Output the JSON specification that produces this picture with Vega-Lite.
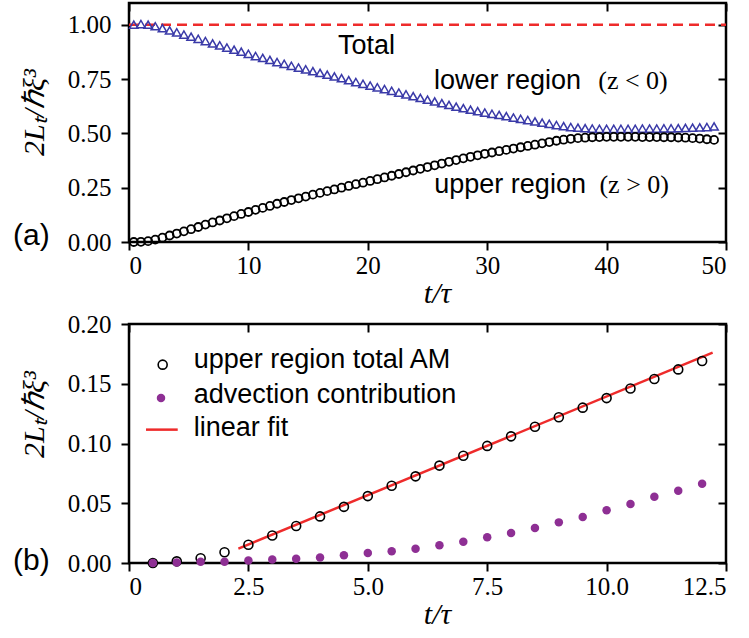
{
  "$schema": "https://vega.github.io/schema/vega-lite/v6.json",
  "padding": {"left": 11, "top": 0, "right": 2, "bottom": 2},
  "spacing": 82,
  "bounds": "flush",
  "background": "white",
  "config": {
    "font": "Liberation Serif",
    "view": {"stroke": "black", "strokeWidth": 2.5},
    "style": {"guide-label": {"font": "Liberation Serif", "fontSize": 25, "fill": "black"}},
    "axis": {
      "domain": false, "grid": false,
      "labelFont": "Liberation Serif", "labelFontSize": 25, "labelColor": "black",
      "tickColor": "black", "tickWidth": 2, "tickSize": 8,
      "titleFont": "Liberation Serif", "titleFontStyle": "italic", "titleFontWeight": "normal",
      "titleFontSize": 30, "titleColor": "black"
    }
  },
  "datasets": {
    "total": [{"t": 0, "v": 1.0}, {"t": 50, "v": 1.0}],
    "lower": [
      {"t":0.4,"v":1.000},{"t":1.0,"v":1.003},{"t":1.6,"v":1.000},{"t":2.2,"v":0.993},{"t":2.8,"v":0.984},{"t":3.4,"v":0.974},{"t":4.0,"v":0.965},{"t":4.6,"v":0.955},{"t":5.2,"v":0.945},{"t":5.8,"v":0.935},
      {"t":6.4,"v":0.925},{"t":7.0,"v":0.914},{"t":7.6,"v":0.905},{"t":8.2,"v":0.895},{"t":8.8,"v":0.885},{"t":9.4,"v":0.876},{"t":10.0,"v":0.866},{"t":10.6,"v":0.856},{"t":11.2,"v":0.847},{"t":11.8,"v":0.838},
      {"t":12.4,"v":0.828},{"t":13.0,"v":0.820},{"t":13.6,"v":0.811},{"t":14.2,"v":0.803},{"t":14.8,"v":0.795},{"t":15.4,"v":0.786},{"t":16.0,"v":0.778},{"t":16.6,"v":0.770},{"t":17.2,"v":0.762},{"t":17.8,"v":0.754},
      {"t":18.4,"v":0.745},{"t":19.0,"v":0.736},{"t":19.6,"v":0.728},{"t":20.2,"v":0.720},{"t":20.8,"v":0.712},{"t":21.4,"v":0.704},{"t":22.0,"v":0.696},{"t":22.6,"v":0.688},{"t":23.2,"v":0.680},{"t":23.8,"v":0.671},
      {"t":24.4,"v":0.663},{"t":25.0,"v":0.655},{"t":25.6,"v":0.647},{"t":26.2,"v":0.639},{"t":26.8,"v":0.631},{"t":27.4,"v":0.623},{"t":28.0,"v":0.616},{"t":28.6,"v":0.609},{"t":29.2,"v":0.602},{"t":29.8,"v":0.596},
      {"t":30.4,"v":0.590},{"t":31.0,"v":0.585},{"t":31.6,"v":0.579},{"t":32.2,"v":0.573},{"t":32.8,"v":0.567},{"t":33.4,"v":0.561},{"t":34.0,"v":0.555},{"t":34.6,"v":0.549},{"t":35.2,"v":0.544},{"t":35.8,"v":0.538},
      {"t":36.4,"v":0.533},{"t":37.0,"v":0.529},{"t":37.6,"v":0.526},{"t":38.2,"v":0.524},{"t":38.8,"v":0.522},{"t":39.4,"v":0.521},{"t":40.0,"v":0.521},{"t":40.6,"v":0.521},{"t":41.2,"v":0.521},{"t":41.8,"v":0.521},
      {"t":42.4,"v":0.521},{"t":43.0,"v":0.522},{"t":43.6,"v":0.522},{"t":44.2,"v":0.522},{"t":44.8,"v":0.523},{"t":45.4,"v":0.523},{"t":46.0,"v":0.524},{"t":46.6,"v":0.525},{"t":47.2,"v":0.526},{"t":47.8,"v":0.527},
      {"t":48.4,"v":0.529},{"t":49.0,"v":0.532}
    ],
    "upper": [
      {"t":0.4,"v":0.000},{"t":1.0,"v":0.001},{"t":1.6,"v":0.004},{"t":2.2,"v":0.011},{"t":2.8,"v":0.020},{"t":3.4,"v":0.030},{"t":4.0,"v":0.039},{"t":4.6,"v":0.049},{"t":5.2,"v":0.059},{"t":5.8,"v":0.069},
      {"t":6.4,"v":0.080},{"t":7.0,"v":0.090},{"t":7.6,"v":0.099},{"t":8.2,"v":0.109},{"t":8.8,"v":0.119},{"t":9.4,"v":0.129},{"t":10.0,"v":0.138},{"t":10.6,"v":0.148},{"t":11.2,"v":0.157},{"t":11.8,"v":0.166},
      {"t":12.4,"v":0.176},{"t":13.0,"v":0.184},{"t":13.6,"v":0.193},{"t":14.2,"v":0.201},{"t":14.8,"v":0.209},{"t":15.4,"v":0.218},{"t":16.0,"v":0.226},{"t":16.6,"v":0.234},{"t":17.2,"v":0.242},{"t":17.8,"v":0.250},
      {"t":18.4,"v":0.258},{"t":19.0,"v":0.266},{"t":19.6,"v":0.273},{"t":20.2,"v":0.281},{"t":20.8,"v":0.289},{"t":21.4,"v":0.297},{"t":22.0,"v":0.305},{"t":22.6,"v":0.313},{"t":23.2,"v":0.321},{"t":23.8,"v":0.329},
      {"t":24.4,"v":0.337},{"t":25.0,"v":0.345},{"t":25.6,"v":0.353},{"t":26.2,"v":0.361},{"t":26.8,"v":0.369},{"t":27.4,"v":0.377},{"t":28.0,"v":0.385},{"t":28.6,"v":0.392},{"t":29.2,"v":0.399},{"t":29.8,"v":0.406},
      {"t":30.4,"v":0.412},{"t":31.0,"v":0.418},{"t":31.6,"v":0.424},{"t":32.2,"v":0.430},{"t":32.8,"v":0.436},{"t":33.4,"v":0.442},{"t":34.0,"v":0.448},{"t":34.6,"v":0.454},{"t":35.2,"v":0.460},{"t":35.8,"v":0.466},
      {"t":36.4,"v":0.471},{"t":37.0,"v":0.475},{"t":37.6,"v":0.478},{"t":38.2,"v":0.480},{"t":38.8,"v":0.482},{"t":39.4,"v":0.483},{"t":40.0,"v":0.484},{"t":40.6,"v":0.484},{"t":41.2,"v":0.484},{"t":41.8,"v":0.484},
      {"t":42.4,"v":0.484},{"t":43.0,"v":0.483},{"t":43.6,"v":0.483},{"t":44.2,"v":0.483},{"t":44.8,"v":0.482},{"t":45.4,"v":0.482},{"t":46.0,"v":0.481},{"t":46.6,"v":0.480},{"t":47.2,"v":0.478},{"t":47.8,"v":0.476},
      {"t":48.4,"v":0.473},{"t":49.0,"v":0.470}
    ],
    "annSans": [
      {"t": 17.5, "v": 0.867, "label": "Total"},
      {"t": 25.54, "v": 0.706, "label": "lower region"},
      {"t": 25.57, "v": 0.225, "label": "upper region"}
    ],
    "annSerif": [
      {"t": 39.3, "v": 0.706, "label": "(z < 0)"},
      {"t": 39.4, "v": 0.225, "label": "(z > 0)"}
    ],
    "panelA": [{"t": 0, "v": 0, "label": "(a)"}],
    "panelB": [{"t": 0, "v": 0, "label": "(b)"}],
    "upperAM": [
      {"t":0.5,"v":0.000},{"t":1.0,"v":0.0014},{"t":1.5,"v":0.004},{"t":2.0,"v":0.009},{"t":2.5,"v":0.0153},{"t":3.0,"v":0.023},{"t":3.5,"v":0.031},{"t":4.0,"v":0.039},
      {"t":4.5,"v":0.047},{"t":5.0,"v":0.056},{"t":5.5,"v":0.0647},{"t":6.0,"v":0.0725},{"t":6.5,"v":0.0815},{"t":7.0,"v":0.0898},{"t":7.5,"v":0.098},{"t":8.0,"v":0.106},
      {"t":8.5,"v":0.114},{"t":9.0,"v":0.122},{"t":9.5,"v":0.130},{"t":10.0,"v":0.138},{"t":10.5,"v":0.146},{"t":11.0,"v":0.154},{"t":11.5,"v":0.162},{"t":12.0,"v":0.169}
    ],
    "advection": [
      {"t":0.5,"v":0.000},{"t":1.0,"v":0.0005},{"t":1.5,"v":0.001},{"t":2.0,"v":0.001},{"t":2.5,"v":0.002},{"t":3.0,"v":0.003},{"t":3.5,"v":0.0036},{"t":4.0,"v":0.0047},
      {"t":4.5,"v":0.0064},{"t":5.0,"v":0.0084},{"t":5.5,"v":0.0098},{"t":6.0,"v":0.012},{"t":6.5,"v":0.0148},{"t":7.0,"v":0.0178},{"t":7.5,"v":0.0215},{"t":8.0,"v":0.0251},
      {"t":8.5,"v":0.0293},{"t":9.0,"v":0.034},{"t":9.5,"v":0.0385},{"t":10.0,"v":0.0441},{"t":10.5,"v":0.0494},{"t":11.0,"v":0.0555},{"t":11.5,"v":0.0605},{"t":12.0,"v":0.0664}
    ],
    "fit": [{"t": 2.29, "v": 0.012}, {"t": 12.22, "v": 0.176}],
    "legCircle": [{"t": 0.705, "v": 0.166}],
    "legDot": [{"t": 0.67, "v": 0.138}],
    "legLine": [{"t": 0.356, "v": 0.1116}, {"t": 1.02, "v": 0.1116}],
    "legText": [
      {"t": 1.354, "v": 0.1632, "label": "upper region total AM"},
      {"t": 1.354, "v": 0.1339, "label": "advection contribution"},
      {"t": 1.354, "v": 0.106, "label": "linear fit"}
    ]
  },
  "vconcat": [
    {
      "width": 597,
      "height": 239,
      "resolve": {"axis": {"x": "independent", "y": "independent"}},
      "layer": [
        {
          "data": {"name": "total"},
          "mark": {"type": "line", "color": "#ee2b2b", "strokeWidth": 2.5, "strokeDash": [10, 6]},
          "encoding": {
            "x": {"field": "t", "type": "quantitative", "scale": {"domain": [0, 50], "nice": false},
                  "axis": {"orient": "bottom", "values": [0, 10, 20, 30, 40, 50], "format": "d", "labelFont": "Liberation Serif, Times New Roman, serif", "labelFontSize": 25, "labelPadding": 3, "title": "t/τ", "titlePadding": 0, "titleX": 308}},
            "y": {"field": "v", "type": "quantitative", "scale": {"domain": [0, 1.1], "nice": false},
                  "axis": {"orient": "left", "values": [0, 0.25, 0.5, 0.75, 1], "format": ".2f", "labelFont": "Liberation Serif, Times New Roman, serif", "labelFontSize": 25, "labelPadding": 10, "title": "2Lₜ/ℏξ³", "titlePadding": 18, "titleY": 109}}
          }
        },
        {
          "data": {"name": "lower"},
          "mark": {"type": "point", "shape": "triangle-up", "filled": false, "color": "#3a3aa8", "opacity": 1, "size": 70, "strokeWidth": 1.5},
          "encoding": {
            "x": {"field": "t", "type": "quantitative",
                  "axis": {"orient": "top", "values": [0, 10, 20, 30, 40, 50], "labels": false, "tickSize": -8, "title": null}},
            "y": {"field": "v", "type": "quantitative",
                  "axis": {"orient": "right", "values": [0, 0.25, 0.5, 0.75, 1], "labels": false, "tickSize": -8, "title": null}}
          }
        },
        {
          "data": {"name": "upper"},
          "mark": {"type": "point", "shape": "circle", "filled": false, "color": "black", "opacity": 1, "size": 64, "strokeWidth": 1.8},
          "encoding": {
            "x": {"field": "t", "type": "quantitative", "axis": null},
            "y": {"field": "v", "type": "quantitative", "axis": null}
          }
        },
        {
          "data": {"name": "annSans"},
          "mark": {"type": "text", "font": "Liberation Sans", "fontSize": 27, "align": "left", "baseline": "alphabetic", "color": "black"},
          "encoding": {
            "x": {"field": "t", "type": "quantitative", "axis": null},
            "y": {"field": "v", "type": "quantitative", "axis": null},
            "text": {"field": "label"}
          }
        },
        {
          "data": {"name": "annSerif"},
          "mark": {"type": "text", "font": "Liberation Serif", "fontSize": 26, "align": "left", "baseline": "alphabetic", "color": "black"},
          "encoding": {
            "x": {"field": "t", "type": "quantitative", "axis": null},
            "y": {"field": "v", "type": "quantitative", "axis": null},
            "text": {"field": "label"}
          }
        },
        {
          "data": {"name": "panelA"},
          "mark": {"type": "text", "font": "Liberation Sans", "fontSize": 30, "align": "left", "baseline": "middle", "dx": -116, "dy": -6, "color": "black"},
          "encoding": {
            "x": {"field": "t", "type": "quantitative", "axis": null},
            "y": {"field": "v", "type": "quantitative", "axis": null},
            "text": {"field": "label"}
          }
        }
      ]
    },
    {
      "width": 597,
      "height": 239,
      "resolve": {"axis": {"x": "independent", "y": "independent"}},
      "layer": [
        {
          "data": {"name": "fit"},
          "mark": {"type": "line", "color": "#ee2b2b", "strokeWidth": 2.5},
          "encoding": {
            "x": {"field": "t", "type": "quantitative", "scale": {"domain": [0, 12.5], "nice": false},
                  "axis": {"orient": "bottom", "values": [0, 2.5, 5, 7.5, 10, 12.5], "labelExpr": "datum.value == 0 ? '0' : format(datum.value, '.1f')", "labelFont": "Liberation Serif, Times New Roman, serif", "labelFontSize": 25, "labelPadding": 3, "title": "t/τ", "titlePadding": 0, "titleX": 308}},
            "y": {"field": "v", "type": "quantitative", "scale": {"domain": [0, 0.2], "nice": false},
                  "axis": {"orient": "left", "values": [0, 0.05, 0.1, 0.15, 0.2], "format": ".2f", "labelFont": "Liberation Serif, Times New Roman, serif", "labelFontSize": 25, "labelPadding": 10, "title": "2Lₜ/ℏξ³", "titlePadding": 18, "titleY": 90}}
          }
        },
        {
          "data": {"name": "upperAM"},
          "mark": {"type": "point", "shape": "circle", "filled": false, "color": "black", "opacity": 1, "size": 81, "strokeWidth": 1.6},
          "encoding": {
            "x": {"field": "t", "type": "quantitative",
                  "axis": {"orient": "top", "values": [0, 2.5, 5, 7.5, 10, 12.5], "labels": false, "tickSize": -8, "title": null}},
            "y": {"field": "v", "type": "quantitative",
                  "axis": {"orient": "right", "values": [0, 0.05, 0.1, 0.15, 0.2], "labels": false, "tickSize": -8, "title": null}}
          }
        },
        {
          "data": {"name": "advection"},
          "mark": {"type": "point", "shape": "circle", "filled": true, "color": "#8e2f94", "opacity": 1, "size": 72, "strokeWidth": 0},
          "encoding": {
            "x": {"field": "t", "type": "quantitative", "axis": null},
            "y": {"field": "v", "type": "quantitative", "axis": null}
          }
        },
        {
          "data": {"name": "legCircle"},
          "mark": {"type": "point", "shape": "circle", "filled": false, "color": "black", "opacity": 1, "size": 81, "strokeWidth": 1.6},
          "encoding": {
            "x": {"field": "t", "type": "quantitative", "axis": null},
            "y": {"field": "v", "type": "quantitative", "axis": null}
          }
        },
        {
          "data": {"name": "legDot"},
          "mark": {"type": "point", "shape": "circle", "filled": true, "color": "#8e2f94", "opacity": 1, "size": 72, "strokeWidth": 0},
          "encoding": {
            "x": {"field": "t", "type": "quantitative", "axis": null},
            "y": {"field": "v", "type": "quantitative", "axis": null}
          }
        },
        {
          "data": {"name": "legLine"},
          "mark": {"type": "line", "color": "#ee2b2b", "strokeWidth": 2.5},
          "encoding": {
            "x": {"field": "t", "type": "quantitative", "axis": null},
            "y": {"field": "v", "type": "quantitative", "axis": null}
          }
        },
        {
          "data": {"name": "legText"},
          "mark": {"type": "text", "font": "Liberation Sans", "fontSize": 27, "align": "left", "baseline": "alphabetic", "color": "black"},
          "encoding": {
            "x": {"field": "t", "type": "quantitative", "axis": null},
            "y": {"field": "v", "type": "quantitative", "axis": null},
            "text": {"field": "label"}
          }
        },
        {
          "data": {"name": "panelB"},
          "mark": {"type": "text", "font": "Liberation Sans", "fontSize": 30, "align": "left", "baseline": "middle", "dx": -116, "dy": -2, "color": "black"},
          "encoding": {
            "x": {"field": "t", "type": "quantitative", "axis": null},
            "y": {"field": "v", "type": "quantitative", "axis": null},
            "text": {"field": "label"}
          }
        }
      ]
    }
  ]
}
